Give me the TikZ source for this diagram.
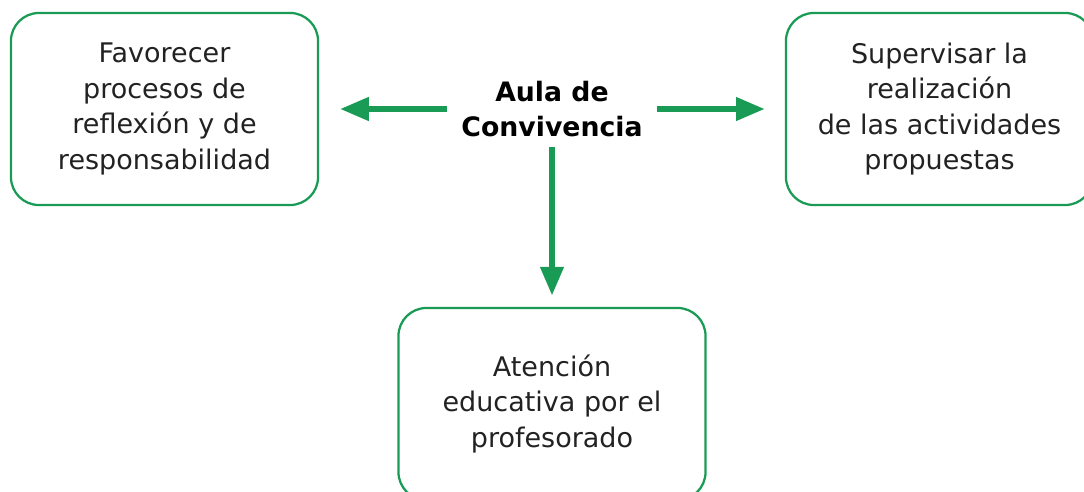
\documentclass[tikz,border=0pt]{standalone}
\usepackage{fontspec}
\setmainfont{DejaVu Sans}
\usetikzlibrary{arrows.meta}
\definecolor{verde}{RGB}{26,155,85}
\definecolor{texto}{RGB}{34,34,34}

\begin{document}
\begin{tikzpicture}[x=0.025cm, y=-0.025cm,
    caja/.style={draw=verde, line width=1.6pt, rounded corners=0.7cm, minimum width=7.675cm, minimum height=4.8cm, align=center, text=texto, font=\fontsize{19.2}{25.2}\selectfont},
    flecha/.style={draw=verde, line width=4.3pt, -{Triangle[length=0.72cm, width=0.56cm]}}]
    \useasboundingbox (0,0) rectangle (1084,492);

    % Centro
    \node[inner sep=0pt, minimum width=5.25cm, minimum height=1.9cm, align=center, font=\fontsize{19}{25.2}\selectfont\bfseries] (aula) at (552,109) {Aula de\\Convivencia};

    % Cajas
    \node[caja] (favorecer) at (164.5,109) {Favorecer\\procesos de\\reflexión y de\\responsabilidad};
    \node[caja] (supervisar) at (939.5,109) {Supervisar la\\realización\\de las actividades\\propuestas};
    \node[caja] (atencion) at (552,404) {Atención\\educativa por el\\profesorado};

    % Flechas
    \draw[flecha, shorten >=0.52cm] (aula.west) -- (favorecer.east);
    \draw[flecha, shorten >=0.5cm] (aula.east) -- (supervisar.west);
    \draw[flecha, shorten >=0.28cm] (aula.south) -- (atencion.north);
\end{tikzpicture}
\end{document}
